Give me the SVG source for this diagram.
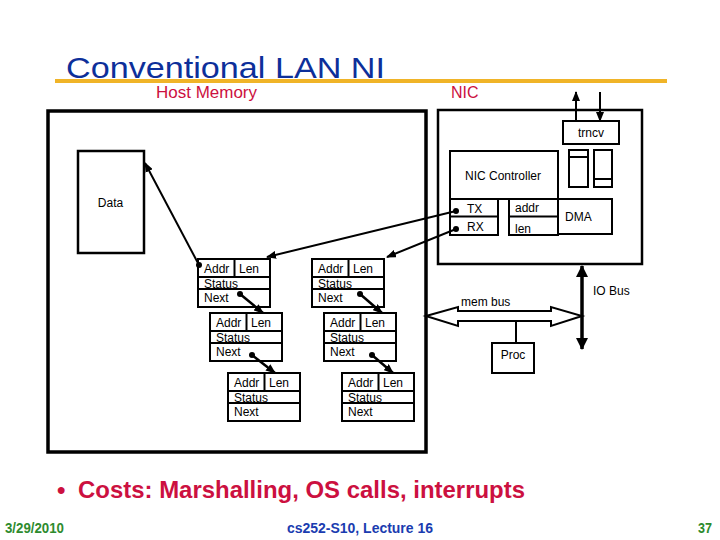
<svg xmlns="http://www.w3.org/2000/svg" width="720" height="540" viewBox="0 0 720 540">
<style>
text{font-family:"Liberation Sans",Arial,sans-serif;}
.s{font-size:12px;fill:#000;}
.box{fill:none;stroke:#000;stroke-width:2;}
.ln{stroke:#000;stroke-width:2;fill:none;}
.red{fill:#cc1040;}
</style>
<defs>
<marker id="ah" markerUnits="userSpaceOnUse" markerWidth="10" markerHeight="8" refX="9" refY="4" orient="auto">
<path d="M0,0 L10,4 L0,8 z" fill="#000"/>
</marker>
<marker id="ahb" markerUnits="userSpaceOnUse" markerWidth="12" markerHeight="12" refX="11" refY="6" orient="auto-start-reverse">
<path d="M0,0 L12,6 L0,12 z" fill="#000"/>
</marker>
<g id="desc">
<rect x="0" y="0" width="72" height="48" class="box"/>
<line x1="0" y1="18" x2="72" y2="18" class="ln"/>
<line x1="0" y1="30" x2="72" y2="30" class="ln"/>
<line x1="36.5" y1="0" x2="36.5" y2="18" class="ln"/>
<text x="6" y="14" class="s">Addr</text>
<text x="41" y="14" class="s">Len</text>
<text x="6" y="28.5" class="s">Status</text>
<text x="6" y="43" class="s">Next</text>
</g>
</defs>
<rect width="720" height="540" fill="#fff"/>

<g id="title">
<text x="66" y="77.5" font-size="30" fill="#0d2f9a" textLength="319" lengthAdjust="spacingAndGlyphs">Conventional LAN NI</text>
<line x1="55" y1="81" x2="667" y2="81" stroke="#f0b428" stroke-width="4"/>
</g>
<text x="156" y="98" font-size="16" class="red" textLength="101" lengthAdjust="spacingAndGlyphs">Host Memory</text>
<text x="451" y="98" font-size="16" class="red">NIC</text>

<g id="host-memory"><rect x="48" y="111" width="378" height="341" fill="none" stroke="#000" stroke-width="3.5"/></g>
<g id="nic"><rect x="438" y="110" width="204" height="154" fill="none" stroke="#000" stroke-width="2.5"/></g>

<g id="data"><rect x="78" y="151" width="66" height="102" fill="none" stroke="#000" stroke-width="2.5"/>
<text x="110.5" y="207" class="s" text-anchor="middle">Data</text></g>

<g id="trncv"><rect x="563" y="121" width="56" height="23" class="box"/>
<text x="591" y="137" class="s" text-anchor="middle">trncv</text></g>
<g id="buf1"><rect x="569" y="150" width="19" height="37" class="box"/><line x1="569" y1="157" x2="588" y2="157" class="ln"/></g>
<g id="buf2"><rect x="594" y="150" width="18" height="37" class="box"/><line x1="594" y1="179" x2="612" y2="179" class="ln"/></g>

<g id="nic-controller"><rect x="450" y="151" width="108" height="48" class="box"/>
<text x="503" y="180" class="s" text-anchor="middle">NIC Controller</text></g>
<g id="txrx"><rect x="450" y="199" width="48" height="36" class="box"/>
<line x1="450" y1="216.5" x2="498" y2="216.5" class="ln"/>
<text x="467" y="213" class="s">TX</text><text x="467" y="231" class="s">RX</text></g>
<g id="addrlen"><rect x="509" y="199" width="49" height="36" class="box"/>
<line x1="509" y1="216.5" x2="558" y2="216.5" class="ln"/>
<text x="515" y="212" class="s">addr</text><text x="515" y="233" class="s">len</text></g>
<g id="dma"><rect x="558" y="199" width="54" height="35" class="box"/>
<text x="565" y="221" class="s">DMA</text></g>

<g id="d1"><use href="#desc" x="198" y="259"/></g>
<g id="d2"><use href="#desc" x="312" y="259"/></g>
<g id="d3"><use href="#desc" x="210" y="313"/></g>
<g id="d4"><use href="#desc" x="324" y="313"/></g>
<g id="d5"><use href="#desc" x="228" y="373"/></g>
<g id="d6"><use href="#desc" x="342" y="373"/></g>

<g id="proc"><rect x="492" y="343" width="42" height="30" class="box"/>
<text x="513" y="359" class="s" text-anchor="middle">Proc</text></g>

<g id="connectors">
<line x1="576" y1="121" x2="576" y2="92" class="ln" marker-end="url(#ah)"/>
<line x1="600" y1="92" x2="600" y2="121" class="ln" marker-end="url(#ah)"/>
<circle cx="456" cy="211" r="3"/>
<circle cx="456" cy="229" r="3"/>
<line x1="456" y1="211" x2="267" y2="257" class="ln" marker-end="url(#ah)"/>
<line x1="456" y1="229" x2="387" y2="257" class="ln" marker-end="url(#ah)"/>
<circle cx="199" cy="265" r="3"/>
<line x1="199" y1="265" x2="145" y2="163" class="ln" marker-end="url(#ah)"/>
<circle cx="240" cy="294" r="3"/>
<line x1="240" y1="294" x2="263" y2="313" stroke="#000" stroke-width="2.5" marker-end="url(#ah)"/>
<circle cx="360" cy="294" r="3"/>
<line x1="360" y1="294" x2="382" y2="313" stroke="#000" stroke-width="2.5" marker-end="url(#ah)"/>
<circle cx="252" cy="355" r="3"/>
<line x1="252" y1="355" x2="275" y2="373" stroke="#000" stroke-width="2.5" marker-end="url(#ah)"/>
<circle cx="372" cy="355" r="3"/>
<line x1="372" y1="355" x2="393" y2="373" stroke="#000" stroke-width="2.5" marker-end="url(#ah)"/>
<line x1="582" y1="266" x2="582" y2="349" stroke="#000" stroke-width="3.5" marker-start="url(#ahb)" marker-end="url(#ahb)"/>
<polygon points="426,316 458,307 458,311 551,311 551,307 582,316 551,326 551,321 458,321 458,326" fill="#fff" stroke="#000" stroke-width="2"/>
<line x1="516" y1="321" x2="516" y2="343" class="ln"/>
</g>
<text x="461" y="306" class="s">mem bus</text>
<text x="593" y="295" class="s">IO Bus</text>

<g id="bullet">
<text x="57" y="498" font-size="24" font-weight="bold" class="red">•</text>
<text x="78" y="498" font-size="24" font-weight="bold" class="red" textLength="447" lengthAdjust="spacingAndGlyphs">Costs: Marshalling, OS calls, interrupts</text>
</g>
<g id="footer">
<text x="5" y="533" font-size="14" font-weight="bold" fill="#2e8b2e" textLength="59" lengthAdjust="spacingAndGlyphs">3/29/2010</text>
<text x="287" y="533" font-size="14" font-weight="bold" fill="#1a3cb0" textLength="146" lengthAdjust="spacingAndGlyphs">cs252-S10, Lecture 16</text>
<text x="698" y="533" font-size="14" font-weight="bold" fill="#2e8b2e" textLength="14" lengthAdjust="spacingAndGlyphs">37</text>
</g>
</svg>
